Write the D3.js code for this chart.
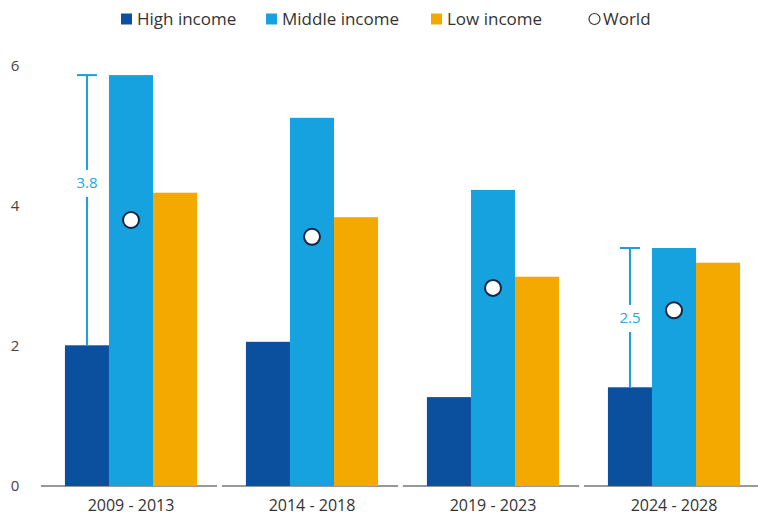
<!DOCTYPE html>
<html>
<head>
<meta charset="utf-8">
<script src="https://cdn.jsdelivr.net/npm/d3@7"></script>
<style>
  html, body { margin: 0; padding: 0; background: #fff; }
  svg { display: block; font-family: "Open Sans", Lato, sans-serif; }
</style>
</head>
<body>
<svg id="chart" width="758" height="523"></svg>
<script>
// ---- data ----
const categories = ["2009 - 2013", "2014 - 2018", "2019 - 2023", "2024 - 2028"];
const seriesNames = ["High income", "Middle income", "Low income"];
const highIncome   = [2.01, 2.06, 1.27, 1.41];
const middleIncome = [5.87, 5.26, 4.23, 3.40];
const lowIncome    = [4.19, 3.84, 2.99, 3.19];
const world        = [3.80, 3.56, 2.83, 2.51];
const yTicks = [0, 2, 4, 6];
// gap annotations: category, label, value where label sits
const annotCats   = ["2009 - 2013", "2024 - 2028"];
const annotLabels = ["3.8", "2.5"];
const annotLabelAt = [4.33, 2.40];

const colors = { "High income": "#0b4f9f", "Middle income": "#16a1df", "Low income": "#f4a900" };
const values = { "High income": highIncome, "Middle income": middleIncome, "Low income": lowIncome };

const svg = d3.select("#chart");
const x = d3.scaleBand().domain(categories).range([40.5, 764.5]).paddingInner(0.27).paddingOuter(0.135);
const xi = d3.scaleBand().domain(seriesNames).range([0, x.bandwidth()]).padding(0);
const y = d3.scaleLinear().domain([0, 6]).range([486, 66]);

// baselines per group
svg.append("g").selectAll("line").data(categories).join("line")
  .attr("x1", d => x(d) - 24).attr("x2", d => x(d) + x.bandwidth() + 20)
  .attr("y1", y(0)).attr("y2", y(0))
  .attr("stroke", "#333").attr("stroke-width", 1.2);

// bars
const groups = svg.append("g").selectAll("g").data(categories).join("g")
  .attr("transform", d => `translate(${x(d)},0)`);
groups.selectAll("rect").data((c, i) => seriesNames.map(s => ({ s, v: values[s][i] }))).join("rect")
  .attr("x", d => xi(d.s)).attr("width", xi.bandwidth())
  .attr("y", d => y(d.v)).attr("height", d => y(0) - y(d.v))
  .attr("fill", d => colors[d.s]);

// annotations
const annColor = "#1a9fd8";
annotCats.forEach((c, k) => {
  const i = categories.indexOf(c);
  const ax = x(c) + xi("High income") + xi.bandwidth() / 2;
  const yTop = y(middleIncome[i]), yBot = y(highIncome[i]), yl = y(annotLabelAt[k]);
  const g = svg.append("g");
  g.append("line").attr("x1", ax).attr("x2", ax).attr("y1", yTop).attr("y2", yl - 13)
    .attr("stroke", annColor).attr("stroke-width", 2);
  g.append("line").attr("x1", ax).attr("x2", ax).attr("y1", yl + 14).attr("y2", yBot)
    .attr("stroke", annColor).attr("stroke-width", 2);
  g.append("line").attr("x1", ax - 10).attr("x2", ax + 10).attr("y1", yTop).attr("y2", yTop)
    .attr("stroke", annColor).attr("stroke-width", 2);
  g.append("text").attr("x", ax).attr("y", yl).attr("dy", "0.35em").attr("text-anchor", "middle")
    .attr("fill", "#2aa6d9").attr("font-size", 15).text(annotLabels[k]);
});

// world markers
svg.append("g").selectAll("circle").data(categories).join("circle")
  .attr("cx", d => x(d) + xi("Middle income") + xi.bandwidth() / 2)
  .attr("cy", (d, i) => y(world[i])).attr("r", 8)
  .attr("fill", "#fff").attr("stroke", "#0d2744").attr("stroke-width", 2);

// y axis labels
svg.append("g").selectAll("text").data(yTicks).join("text")
  .attr("x", 15).attr("y", d => y(d)).attr("dy", "0.35em").attr("text-anchor", "middle")
  .attr("fill", "#444").attr("font-size", 15).text(d => d);

// x labels
svg.append("g").selectAll("text").data(categories).join("text")
  .attr("x", d => x(d) + x.bandwidth() / 2).attr("y", 511).attr("text-anchor", "middle")
  .attr("fill", "#333").attr("font-size", 16).text(d => d);

// legend
const legendItems = [...seriesNames, "World"];
const legendX = [121, 266, 431, 589];
const lg = svg.append("g").selectAll("g").data(legendItems).join("g")
  .attr("transform", (d, i) => `translate(${legendX[i]},19)`);
lg.each(function(d) {
  const g = d3.select(this);
  if (d === "World") {
    g.append("circle").attr("cx", 5.5).attr("cy", 0).attr("r", 5.5)
      .attr("fill", "#fff").attr("stroke", "#333").attr("stroke-width", 1.2);
  } else {
    g.append("rect").attr("x", 0).attr("y", -5.5).attr("width", 11).attr("height", 11).attr("fill", colors[d]);
  }
  g.append("text").attr("x", d === "World" ? 14 : 16).attr("y", 0).attr("dy", "0.35em")
    .attr("fill", "#333").attr("font-size", 17).text(d);
});
</script>
</body>
</html>
